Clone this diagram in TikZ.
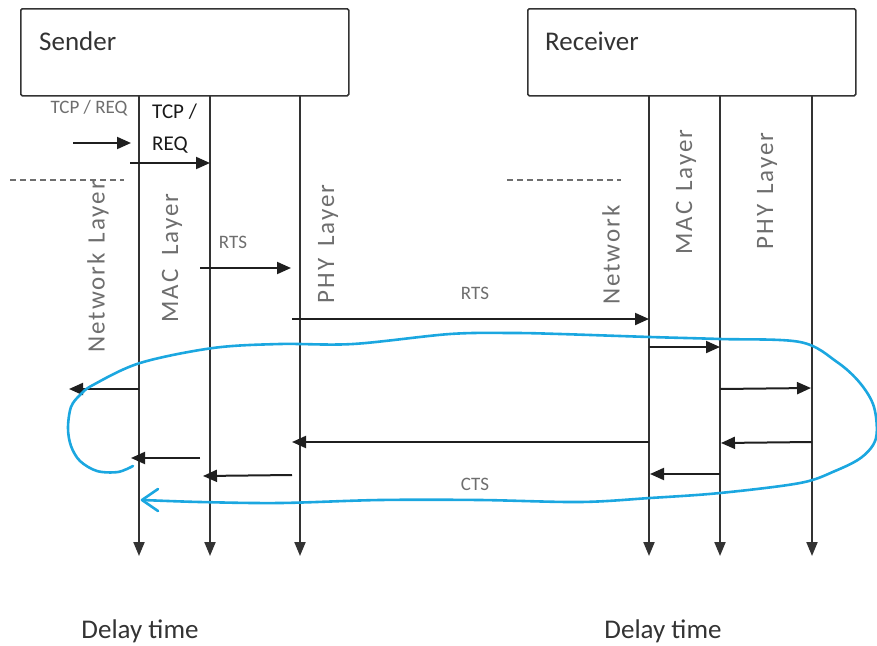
\documentclass[tikz,border=0pt]{standalone}
\usepackage{fontspec}
\setmainfont{Carlito}
\newfontfamily\layfont[LetterSpace=8]{Carlito}
\usetikzlibrary{arrows.meta}
\definecolor{lineg}{HTML}{333333}
\definecolor{txtg}{HTML}{6E6E6E}
\definecolor{blueloop}{HTML}{1BA7E0}
\begin{document}
\begin{tikzpicture}[x=1pt,y=-1pt,
 box/.style={draw=lineg, line width=1.6pt, rounded corners=1.5pt, inner sep=0},
 life/.style={draw=lineg, line width=2pt, -{Triangle[length=14pt,width=11pt]}},
 msg/.style={draw=black!88, line width=2pt, -{Triangle[length=14pt,width=12pt]}},
 lay/.style={rotate=90, text=txtg, font=\layfont\fontsize{25}{25}\selectfont, inner sep=0},
 small/.style={text=txtg, font=\fontsize{19}{19}\selectfont, inner sep=0},
 blk/.style={text=black!90, font=\fontsize{21}{21}\selectfont, inner sep=0},
 big/.style={text=black!80, font=\fontsize{27}{27}\selectfont, inner sep=0},
 dashline/.style={draw=txtg, dash pattern=on 6pt off 4pt, line width=1.4pt},
 loop/.style={draw=blueloop, line width=2.6pt, line cap=round, line join=round},
]
\useasboundingbox (0,0) rectangle (877,645);

% boxes
\node[box, minimum width=328pt, minimum height=87pt, anchor=north west] (sender) at (20,8) {};
\node[box, minimum width=328pt, minimum height=87pt, anchor=north west] (receiver) at (527,8) {};
\node[big, anchor=west] (sendertxt) at (39,41) {Sender};
\node[big, anchor=west] (receivertxt) at (545,41) {Receiver};

% lifelines
\coordinate (sNetT) at (139,95);  \coordinate (sNetB) at (139,556);
\coordinate (sMacT) at (210,95);  \coordinate (sMacB) at (210,556);
\coordinate (sPhyT) at (300,95);  \coordinate (sPhyB) at (300,556);
\coordinate (rNetT) at (649,95);  \coordinate (rNetB) at (649,556);
\coordinate (rMacT) at (720,95);  \coordinate (rMacB) at (720,556);
\coordinate (rPhyT) at (812,95);  \coordinate (rPhyB) at (812,556);
\draw[life] (sNetT) -- (sNetB);
\draw[life] (sMacT) -- (sMacB);
\draw[life] (sPhyT) -- (sPhyB);
\draw[life] (rNetT) -- (rNetB);
\draw[life] (rMacT) -- (rMacB);
\draw[life] (rPhyT) -- (rPhyB);

% dashed separators
\coordinate (d1a) at (10,180); \coordinate (d1b) at (124,180);
\coordinate (d2a) at (507,180); \coordinate (d2b) at (621,180);
\draw[dashline] (d1a) -- (d1b);
\draw[dashline] (d2a) -- (d2b);

% layer labels
\node[lay] (lNet) at (98,267) {Network \hspace{2pt}Layer};
\node[lay] (lMac) at (172,258) {MAC \hspace{6pt}Layer};
\node[lay] (lPhy) at (328,244) {PHY \hspace{4pt}Layer};
\node[lay] (rNet) at (611,255) {Network};
\node[lay] (rMac) at (686,192) {MAC \hspace{2pt}Layer};
\node[lay] (rPhy) at (767,191) {PHY \hspace{2pt}Layer};

% small labels
\node[small] (tcp1) at (89,108) {TCP / REQ};
\node[blk, anchor=west] (tcp2) at (152,112) {TCP /};
\node[blk, anchor=west] (tcp3) at (152,145) {REQ};
\node[small] (rts1) at (233,242) {RTS};
\node[small] (rts2) at (475,293) {RTS};
\node[small] (cts) at (475,484) {CTS};

% messages
\coordinate (m1a) at (73,143);  \coordinate (m1b) at (131,143);
\coordinate (m2a) at (130,163); \coordinate (m2b) at (210,163);
\coordinate (m3a) at (200,268); \coordinate (m3b) at (291,268);
\coordinate (m4a) at (292,319); \coordinate (m4b) at (649,319);
\coordinate (m5a) at (649,347); \coordinate (m5b) at (720,347);
\coordinate (m6a) at (720,389); \coordinate (m6b) at (811,388);
\coordinate (m7a) at (812,442); \coordinate (m7b) at (721,443);
\coordinate (m8a) at (720,474); \coordinate (m8b) at (650,474);
\coordinate (m9a) at (649,442); \coordinate (m9b) at (292,442);
\coordinate (m10a) at (292,475); \coordinate (m10b) at (203,476);
\coordinate (m11a) at (200,458); \coordinate (m11b) at (131,458);
\coordinate (m12a) at (139,389); \coordinate (m12b) at (69,389);
\foreach \i in {1,...,12} { \draw[msg] (m\i a) -- (m\i b); }

% blue loop
\draw[loop] plot[smooth, tension=0.55] coordinates {
 (133,466) (118,472) (97,471) (80,461) (71,446) (68,428) (71,407) (80,395) (93,385)
 (140,363) (213,348) (280,344) (353,344) (450,334) (513,333) (560,334)
 (650,337) (720,339) (800,342) (837,362) (860,383) (874,407) (876,438)
 (862,457) (835,471) (800,483) (720,493) (650,498) (580,502) (480,500)
 (380,500) (280,503) (200,502) (143,500)};
\coordinate (tipA) at (158,489); \coordinate (tipB) at (142,500); \coordinate (tipC) at (158,511);
\draw[loop] (tipA) -- (tipB) -- (tipC);

% bottom labels
\node[big] (delay1) at (140,631) {Delay time};
\node[big] (delay2) at (663,631) {Delay time};
\end{tikzpicture}
\end{document}
